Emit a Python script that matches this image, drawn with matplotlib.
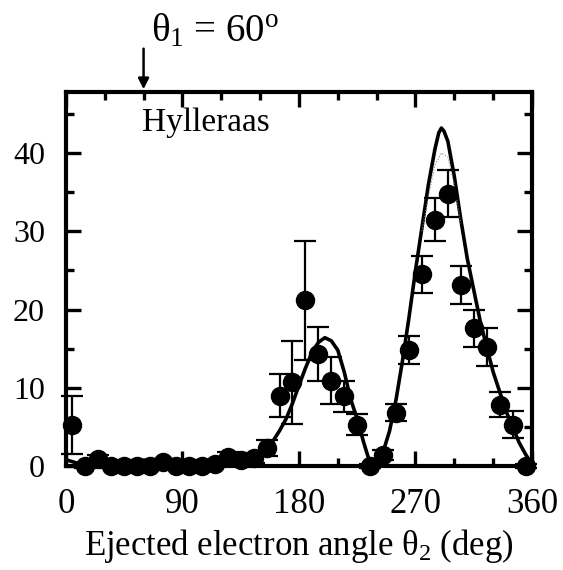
import numpy as np
import matplotlib
matplotlib.use("Agg")
from matplotlib import pyplot as plt
from matplotlib.ticker import MultipleLocator

plt.rcParams['font.family'] = ['Liberation Serif', 'DejaVu Serif']
plt.rcParams['mathtext.fontset'] = 'custom'
plt.rcParams['mathtext.rm'] = 'Liberation Serif'
plt.rcParams['mathtext.it'] = 'Liberation Serif'
plt.rcParams['mathtext.bf'] = 'Liberation Serif:bold'

# measured points (deg, value, error)
ang = [5, 15, 25, 35, 45, 55, 65, 75, 85, 95, 105, 115, 125, 135, 145, 155,
       165, 175, 185, 195, 205, 215, 225, 235, 245, 255, 265, 275, 285, 295,
       305, 315, 325, 335, 345, 355]
val = [5.2, 0.0, 0.9, 0.0, 0.0, 0.0, 0.0, 0.5, 0.0, 0.0, 0.0, 0.2, 1.2, 0.8, 1.0, 2.3,
       9.0, 10.7, 21.2, 14.3, 10.9, 8.9, 5.3, 0.0, 1.4, 6.8, 14.8, 24.5, 31.5, 34.8,
       23.1, 17.6, 15.2, 7.8, 5.3, 0.0]
err = [3.7, 0.3, 0.5, 0.3, 0.3, 0.3, 0.3, 0.4, 0.3, 0.3, 0.3, 0.3, 0.6, 0.5, 0.6, 1.0,
       2.8, 5.3, 7.6, 3.5, 3.0, 2.0, 1.3, 0.3, 0.6, 1.1, 1.8, 2.4, 2.7, 3.0,
       2.4, 2.4, 2.4, 1.6, 1.7, 0.3]

# Hylleraas curve
th_ang = [0, 10, 20, 40, 60, 80, 100, 120, 140, 150, 155, 160, 165, 170, 175, 180,
          185, 190, 195, 200, 205, 210, 215, 220, 225, 230, 235, 240, 245, 250,
          255, 260, 265, 270, 275, 280, 285, 288, 290, 292, 295, 300, 305, 310,
          315, 320, 325, 330, 335, 340, 345, 350, 355, 360]
th_val = [0.8, 0.3, 0.2, 0.2, 0.2, 0.2, 0.2, 0.3, 0.5, 1.2, 2.0, 3.2, 4.5, 6.0, 8.0, 10.3,
          12.5, 14.5, 15.8, 16.4, 16.0, 14.8, 12.0, 8.5, 6.0, 3.0, 0.3, 0.2, 1.8, 4.5,
          8.5, 13.5, 19.0, 25.0, 30.5, 36.0, 40.5, 42.6, 43.2, 42.8, 41.5, 37.0, 31.5, 26.5,
          22.5, 18.5, 15.2, 12.0, 9.5, 7.0, 5.0, 3.0, 1.5, 0.2]
# thin dotted curve near the big peak
th2_ang = [275, 280, 285, 290, 295, 300, 305]
th2_val = [30.0, 34.5, 38.5, 40.0, 39.5, 36.0, 31.0]

fig = plt.figure(figsize=(5.63, 5.70), dpi=100)
ax = fig.add_axes([0.117, 0.1825, 0.828, 0.656])

ax.plot(th_ang, th_val, color='black', lw=2.6, zorder=3)
ax.plot(th2_ang, th2_val, color='gray', lw=0.8, ls=':', zorder=3)
ax.errorbar(ang, val, yerr=err, fmt='o', color='black', ms=13, elinewidth=1.6,
            capsize=8, capthick=1.6, zorder=4, clip_on=False)

ax.set_xlim(0, 360)
ax.set_ylim(0, 47.8)
ax.xaxis.set_major_locator(MultipleLocator(90))
ax.xaxis.set_minor_locator(MultipleLocator(30))
ax.yaxis.set_major_locator(MultipleLocator(10))
ax.yaxis.set_minor_locator(MultipleLocator(5))
ax.tick_params(which='both', direction='in', top=True, right=True, width=2.4)
ax.tick_params(axis='x', labelsize=25, pad=16)
ax.tick_params(axis='y', labelsize=23, pad=15)
ax.tick_params(which='major', length=11)
ax.tick_params(which='minor', length=6)
for s in ax.spines.values():
    s.set_linewidth(3.0)

ax.set_xlabel(r'Ejected electron angle $\theta_2$ (deg)', fontsize=25, labelpad=4)
ax.text(0.163, 0.918, 'Hylleraas', transform=ax.transAxes, fontsize=24, va='center')
ax.annotate('', xy=(60, 47.8), xytext=(60, 53.7),
            arrowprops=dict(arrowstyle='-|>', color='black', lw=1.8,
                            mutation_scale=16),
            annotation_clip=False)
ax.text(66, 55.5, r'$\theta_1$ = 60$^{\rm o}$', fontsize=28, va='center')

fig.savefig('out.png', dpi=100)
